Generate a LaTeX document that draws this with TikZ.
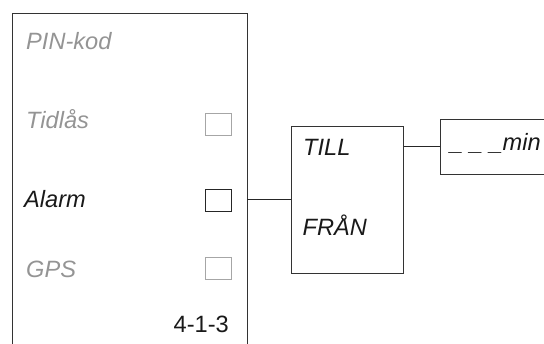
\documentclass[tikz,border=0pt]{standalone}
\usepackage{fontspec}
\setmainfont{Liberation Sans}
\begin{document}
\begin{tikzpicture}[x=1pt,y=-1pt,
  frame/.style={draw=black!80,line width=0.9pt,rectangle,inner sep=0pt,anchor=north west},
  cbon/.style={draw=black!85,line width=0.8pt,rectangle,inner sep=0pt,anchor=north west,minimum width=25.5pt,minimum height=22pt},
  cboff/.style={draw=black!35,line width=0.8pt,rectangle,inner sep=0pt,anchor=north west,minimum width=25.5pt,minimum height=22.5pt},
  lbl/.style={inner sep=0pt,anchor=base west,font=\fontsize{23.6}{27}\selectfont\itshape},
  dim/.style={text=black!42},
  wire/.style={draw=black!85,line width=0.9pt}]
\useasboundingbox (0,0) rectangle (544,344);
\clip (0,0) rectangle (544,344);
% main panel
\node[frame,minimum width=234.5pt,minimum height=360pt] (panel) at (12,13) {};
\node[lbl,dim] (pin) at (26,49.3) {PIN-kod};
\node[lbl,dim] (tid) at (26,129) {Tidlås};
\node[lbl,text=black!90] (alarm) at (24,208) {Alarm};
\node[lbl,dim] (gps) at (26,278) {GPS};
\node[inner sep=0pt,anchor=base east,font=\fontsize{23.6}{27}\selectfont,text=black!90] (code) at (229,333) {4-1-3};
% checkboxes
\node[cboff] (cbtid) at (205,113) {};
\node[cbon] (cbalarm) at (205,189) {};
\node[cboff] (cbgps) at (205,257) {};
% TILL/FRAN box
\node[frame,minimum width=112.5pt,minimum height=147pt] (tf) at (290.5,126) {};
\node[lbl,text=black!90] (till) at (303,156) {TILL};
\node[lbl,text=black!90] (fran) at (302.5,236) {FRÅN};
% min box
\node[frame,minimum width=140pt,minimum height=55pt] (minbox) at (440,119) {};
\node[lbl,text=black!90] (mintxt) at (450,150.5) {\_ \_ \_min};
% connectors
\draw[wire] (tf.west -| panel.east) -- (tf.west);
\draw[wire] (minbox.west -| tf.east) -- (minbox.west);
\end{tikzpicture}
\end{document}
